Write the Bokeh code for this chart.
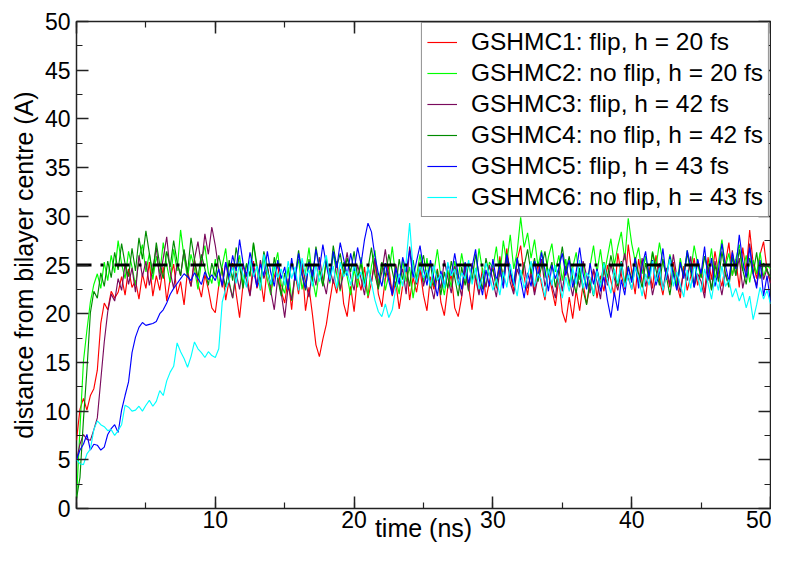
from bokeh.plotting import figure
from bokeh.models import Range1d, LinearAxis, SingleIntervalTicker, CustomJSTickFormatter
from bokeh.embed import file_html
from bokeh.resources import INLINE
import numpy as np

# time axis sampling (ns)
time_ns = np.arange(0, 201) * 0.25

gshmc1 = [
    7.0, 10.2, 11.3, 10.1, 11.6, 12.3, 14.2, 19.0, 21.1, 20.4, 22.3, 21.6, 22.2, 23.8, 21.9, 24.6, 22.7, 23.4, 21.5, 24.1,
    22.6, 25.3, 21.8, 23.9, 22.4, 24.8, 21.3, 23.6, 25.1, 22.0, 23.3, 20.9, 24.4, 22.8, 25.6, 23.1, 21.7, 24.0, 22.5, 20.6,
    20.1, 22.9, 24.7, 21.4, 23.5, 25.2, 22.1, 19.6, 23.0, 24.3, 21.9, 25.4, 22.6, 23.7, 21.2, 24.9, 22.4, 23.8, 25.0, 22.3,
    21.1, 23.6, 20.4, 24.2, 22.0, 25.1, 20.3, 22.7, 19.9, 16.8, 15.6, 17.4, 18.9, 21.3, 23.5, 22.1, 24.6, 21.0, 19.7, 22.8,
    20.2, 23.9, 22.4, 24.8, 21.6, 23.2, 25.4, 22.0, 20.7, 23.6, 24.9, 21.8, 23.3, 20.5, 22.9, 25.0, 21.4, 23.7, 22.2, 24.5,
    21.9, 20.3, 23.8, 22.5, 24.6, 21.2, 19.8, 22.7, 24.0, 20.6, 19.7, 21.7, 25.2, 22.8, 20.4, 23.9, 22.1, 24.7, 21.5, 23.3,
    24.8, 22.6, 25.9, 23.4, 26.7, 24.1, 22.3, 25.5, 27.0, 23.8, 21.9, 24.6, 22.2, 25.3, 23.0, 21.4, 24.2, 22.5, 20.8, 23.6,
    20.2, 19.1, 21.7, 19.5, 22.4, 20.3, 23.1, 21.0, 22.8, 24.5, 21.6, 23.9, 22.3, 25.0, 23.4, 21.8, 26.2, 24.0, 22.5, 27.1,
    24.3, 22.0, 25.6, 23.2, 21.5, 24.8, 22.6, 26.0, 23.5, 21.9, 24.4, 22.7, 25.3, 23.0, 21.6, 24.9, 22.4, 23.8, 25.7, 22.9,
    24.6, 22.1, 25.8, 23.5, 26.4, 24.2, 22.8, 25.1, 27.3, 23.9, 25.6, 22.7, 26.8, 24.3, 28.6, 25.2, 23.6, 26.1, 27.4, 24.5,
    23.2,
]

gshmc2 = [
    1.0, 8.2, 15.1, 18.3, 21.2, 23.0, 24.1, 22.6, 25.3, 23.4, 26.0, 24.2, 27.5, 25.1, 23.6, 26.4, 24.8, 22.9, 25.7, 27.1,
    24.3, 26.2, 23.5, 25.9, 24.1, 27.3, 25.0, 23.2, 26.6, 24.4, 28.6, 25.8, 23.7, 26.1, 24.6, 22.5, 25.4, 27.0, 24.2, 23.1,
    25.6, 22.8, 24.9, 26.7, 23.3, 21.6, 24.5, 26.0, 22.9, 25.2, 23.8, 27.2, 24.6, 22.4, 25.9, 23.5, 21.9, 24.7, 26.3, 23.0,
    22.1, 24.8, 21.3, 23.9, 25.6, 22.5, 24.2, 26.8, 23.6, 21.7, 24.4, 22.9, 25.7, 23.1, 26.2, 24.0, 22.3, 25.3, 23.8, 21.9,
    24.6, 22.7, 25.8, 23.4, 21.8, 24.9, 26.5, 23.1, 25.2, 22.4, 24.0, 26.9, 23.7, 22.0, 25.5, 23.3, 24.8, 21.6, 23.9, 26.1,
    23.2, 25.7, 22.6, 24.3, 26.6, 23.8, 21.9, 24.5, 22.7, 25.4, 23.6, 26.2, 24.1, 22.3, 25.0, 23.5, 26.7, 24.4, 22.8, 25.3,
    24.7, 26.9, 23.8, 27.5, 25.2, 28.1, 24.6, 26.4, 29.9, 26.8, 28.3, 25.7, 27.6, 24.9, 26.5, 23.7, 25.8, 27.2, 24.3, 26.0,
    23.4, 25.6, 22.8, 24.7, 26.3, 23.5, 25.1, 22.6, 24.9, 27.0, 24.2, 26.6, 23.9, 25.8, 27.7, 25.0, 26.9, 28.4, 25.5, 29.8,
    27.2, 25.4, 26.8, 24.1, 25.9, 23.6, 26.4, 24.8, 27.3, 25.2, 23.9, 26.1, 24.5, 22.9, 25.7, 23.8, 26.5, 24.3, 27.0, 25.1,
    23.7, 25.9, 24.2, 26.7, 23.5, 25.3, 27.6, 24.8, 26.2, 23.9, 25.6, 27.1, 24.4, 26.0, 23.2, 25.5, 24.1, 26.3, 23.8, 25.0,
    24.6,
]

gshmc3 = [
    5.0, 6.6, 7.6, 7.1, 7.0, 8.1, 9.3, 13.2, 17.1, 20.2, 22.0, 21.3, 23.6, 22.4, 25.1, 23.0, 24.7, 22.2, 26.0, 23.8,
    25.4, 22.9, 24.6, 26.8, 23.5, 25.7, 27.9, 24.3, 22.6, 25.2, 23.9, 26.5, 24.1, 22.8, 25.6, 27.4, 24.9, 28.2, 26.1, 28.9,
    27.0, 24.5, 22.7, 25.3, 23.1, 21.6, 24.2, 22.5, 25.0, 23.4, 21.8, 24.6, 22.9, 25.5, 23.6, 24.8, 22.3, 20.4, 23.7, 22.1,
    19.6, 22.8, 21.4, 24.0, 22.6, 25.2, 23.3, 21.7, 24.5, 22.9, 25.8, 23.5, 22.0, 24.7, 23.1, 25.4, 22.5, 24.2, 26.3, 23.8,
    22.4, 25.0, 23.6, 21.9, 24.8, 23.2, 25.7, 22.7, 24.3, 26.6, 23.9, 22.2, 25.1, 23.4, 24.6, 22.0, 26.9, 24.5, 23.0, 25.3,
    22.8, 24.4, 23.1, 21.5, 24.0, 22.6, 25.5, 23.7, 22.1, 24.9, 23.3, 21.8, 24.7, 22.4, 25.2, 23.6, 21.9, 24.1, 22.7, 25.0,
    23.4, 21.7, 24.5, 22.9, 25.8, 23.2, 22.0, 24.6, 23.5, 25.3, 22.6, 24.1, 21.9, 23.8, 25.6, 22.8, 24.3, 23.0, 21.6, 24.7,
    22.3, 24.9, 23.5, 21.8, 24.2, 22.7, 25.4, 23.9, 22.1, 24.6, 23.3, 21.5, 24.8, 22.9, 25.1, 23.6, 22.4, 24.5, 26.2, 23.7,
    22.5, 24.9, 23.1, 25.7, 22.8, 24.3, 21.9, 23.6, 25.2, 22.4, 24.7, 23.0, 26.1, 23.8, 22.2, 24.5, 23.4, 25.9, 22.7, 24.1,
    23.3, 21.6, 24.8, 22.5, 25.4, 23.7, 21.9, 24.2, 22.8, 26.5, 23.9, 25.7, 22.6, 24.4, 27.2, 24.0, 22.9, 25.3, 23.5, 24.6,
    23.1,
]

gshmc4 = [
    1.0, 3.2, 9.1, 14.2, 20.1, 22.3, 21.6, 24.2, 22.8, 25.4, 23.7, 26.3, 24.5, 27.2, 25.1, 23.8, 26.7, 24.4, 27.8, 25.6,
    28.5, 26.2, 24.1, 27.3, 25.0, 23.6, 26.4, 24.8, 27.5, 25.3, 23.9, 26.6, 24.2, 27.8, 25.5, 23.7, 26.1, 24.6, 22.9, 25.2,
    23.8, 26.0, 24.3, 22.7, 25.5, 23.4, 26.8, 24.9, 22.6, 25.1, 23.9, 27.3, 25.0, 23.2, 26.4, 24.7, 22.9, 25.8, 23.6, 21.8,
    24.2, 22.6, 25.3, 23.8, 26.5, 24.1, 22.4, 25.6, 23.3, 26.9, 24.7, 22.8, 25.4, 23.6, 27.0, 24.8, 26.2, 23.9, 25.7, 24.3,
    26.4, 23.7, 25.2, 22.9, 24.6, 26.8, 24.0, 22.5, 25.3, 23.8, 26.1, 24.4, 22.7, 25.6, 23.5, 24.9, 22.8, 25.5, 23.2, 24.7,
    26.0, 23.6, 25.1, 22.8, 24.5, 21.9, 24.3, 22.6, 25.4, 23.7, 21.8, 24.8, 22.9, 25.2, 23.4, 26.1, 24.0, 22.5, 25.7, 23.9,
    24.6, 22.8, 25.5, 23.7, 26.2, 24.4, 22.9, 25.8, 23.5, 24.9, 26.6, 24.1, 25.7, 23.3, 24.8, 26.4, 24.0, 25.3, 22.7, 24.5,
    26.9, 24.3, 25.9, 23.6, 22.1, 24.7, 22.4, 20.9, 23.5, 21.8, 24.6, 22.9, 25.3, 23.7, 26.0, 24.2, 22.8, 25.4, 23.1, 24.9,
    23.5, 25.8, 24.1, 22.7, 25.2, 23.6, 26.3, 24.5, 22.9, 25.6, 23.8, 21.9, 24.4, 22.6, 25.1, 23.9, 26.2, 24.3, 22.8, 25.5,
    23.7, 25.9, 24.6, 22.4, 25.0, 23.3, 26.4, 24.2, 22.7, 25.8, 23.9, 26.6, 24.5, 23.0, 25.7, 24.1, 26.3, 23.6, 25.2, 24.4,
    23.8,
]

gshmc5 = [
    5.0, 6.0, 6.6, 7.6, 6.0, 6.6, 6.5, 6.0, 6.3, 7.6, 8.2, 8.6, 7.8, 10.1, 11.6, 13.0, 16.0, 17.6, 18.6, 19.1,
    18.8, 18.9, 19.0, 19.2, 20.0, 20.4, 21.1, 22.0, 22.6, 23.1, 23.6, 24.1, 23.8, 23.4, 24.2, 23.6, 23.0, 24.3, 23.5, 24.0,
    23.4, 24.6, 22.9, 25.3, 23.7, 26.0, 24.4, 27.6, 25.2, 23.8, 26.3, 24.6, 22.7, 25.1, 23.9, 26.4, 24.2, 22.8, 25.5, 23.6,
    24.8, 22.5, 25.7, 23.4, 26.2, 24.0, 22.6, 25.3, 23.8, 26.6, 24.5, 27.1, 25.0, 23.3, 26.4, 24.7, 27.3, 25.6, 23.9, 26.2,
    24.4, 26.8, 25.1, 27.6, 29.3, 28.4, 25.9, 24.1, 22.8, 25.2, 23.4, 21.9, 24.7, 23.0, 25.8, 24.3, 26.5, 23.7, 25.4, 27.0,
    24.6, 22.9, 25.5, 23.6, 21.8, 24.4, 22.7, 25.1, 23.9, 26.2, 24.0, 22.5, 25.3, 23.1, 24.8, 26.6, 23.7, 21.9, 24.5, 22.8,
    25.6, 23.4, 24.9, 22.6, 26.1, 24.3, 22.9, 25.7, 23.5, 21.6, 24.2, 22.8, 25.4, 23.7, 26.3, 24.5, 22.3, 25.0, 23.6, 24.7,
    26.2, 23.9, 25.5, 22.7, 24.3, 26.8, 24.1, 22.5, 25.2, 23.0, 24.6, 22.3, 23.8, 21.4, 19.6, 22.2, 20.3, 23.5, 21.9, 24.8,
    23.2, 25.7, 22.6, 24.9, 26.4, 23.8, 25.5, 22.9, 24.2, 26.7, 23.5, 25.9, 24.0, 22.4, 25.3, 23.6, 26.5, 24.8, 22.7, 25.6,
    24.1, 26.9, 23.4, 25.7, 22.8, 24.5, 27.2, 25.0, 23.3, 26.3, 24.6, 28.1, 25.4, 23.7, 26.8, 24.2, 22.6, 25.5, 21.8, 23.9,
    21.2,
]

gshmc6 = [
    5.0, 4.6, 4.5, 5.6, 6.1, 8.1, 9.0, 8.6, 8.4, 8.0, 8.1, 7.5, 8.0, 8.6, 10.6, 10.4, 10.0, 10.1, 10.5, 10.0,
    10.6, 11.1, 10.5, 11.0, 12.1, 11.6, 13.1, 14.0, 14.6, 17.0, 16.1, 15.4, 14.5, 15.6, 17.1, 16.4, 16.0, 15.5, 16.1, 15.7,
    15.5, 16.4, 21.2, 22.6, 23.5, 24.8, 23.1, 25.3, 24.0, 22.7, 25.6, 23.8, 24.9, 22.5, 26.1, 24.3, 23.0, 25.2, 23.7, 24.6,
    22.9, 25.4, 23.6, 24.8, 22.4, 25.7, 23.9, 24.5, 22.8, 25.0, 23.3, 24.7, 26.0, 23.5, 24.9, 22.6, 25.3, 23.8, 24.4, 22.9,
    25.1, 23.6, 24.3, 22.7, 24.8, 23.2, 21.4, 20.2, 19.7, 21.0, 19.6, 20.4, 22.6, 24.1, 22.8, 25.3, 29.3, 24.6, 23.2, 25.0,
    23.7, 24.5, 22.8, 25.0, 23.4, 24.1, 22.6, 25.3, 23.9, 24.6, 22.9, 24.2, 23.6, 25.5, 23.0, 24.7, 22.5, 23.8, 25.2, 24.0,
    22.4, 23.6, 21.9, 24.3, 22.7, 25.1, 23.3, 21.8, 24.5, 22.6, 23.9, 25.4, 22.8, 24.1, 23.5, 21.7, 24.6, 22.9, 25.0, 23.2,
    21.6, 23.8, 22.3, 24.7, 23.0, 25.5, 22.6, 24.2, 23.7, 21.9, 24.4, 22.8, 25.2, 23.4, 22.1, 24.6, 23.1, 25.3, 22.7, 24.0,
    22.5, 24.8, 23.6, 21.8, 24.1, 22.9, 25.4, 23.3, 24.7, 22.4, 23.9, 25.6, 22.8, 24.3, 23.0, 21.7, 24.5, 22.6, 25.1, 23.8,
    22.2, 24.6, 23.1, 21.5, 23.7, 22.4, 24.9, 22.8, 23.5, 21.7, 22.6, 21.3, 22.2, 20.6, 21.8, 19.4, 20.9, 22.7, 21.5, 22.4,
    21.0,
]

ref_time = [0, 50]
ref_distance = [25, 25]

series_labels = [
    "GSHMC1: flip, h = 20 fs",
    "GSHMC2: no flip, h = 20 fs",
    "GSHMC3: flip, h = 42 fs",
    "GSHMC4: no flip, h = 42 fs",
    "GSHMC5: flip, h = 43 fs",
    "GSHMC6: no flip, h = 43 fs",
]
series_values = [gshmc1, gshmc2, gshmc3, gshmc4, gshmc5, gshmc6]
series_colors = ["#ff0000", "#00ff00", "#7a0a5c", "#008b00", "#0000ff", "#00ffff"]

FONT = "Liberation Sans"

p = figure(
    width=771, height=549,
    x_range=Range1d(0, 50), y_range=Range1d(0, 50),
    output_backend="svg", toolbar_location=None,
    min_border_left=76, min_border_right=1, min_border_top=21, min_border_bottom=41,
)
p.background_fill_color = "white"
p.border_fill_color = "white"
p.xgrid.visible = False
p.ygrid.visible = False
p.outline_line_color = "#222222"
p.outline_line_width = 1.5

for vals, lab, col in zip(series_values, series_labels, series_colors):
    p.line(time_ns, vals, line_color=col, line_width=1.15, legend_label=lab)

p.line(ref_time, ref_distance, line_color="black", line_width=3, line_dash="15 9 3 11")

blank = CustomJSTickFormatter(code="return '';")

def style_axis(ax, ticker, labels=True):
    ax.ticker = ticker
    ax.axis_line_color = None
    ax.major_tick_in = 12
    ax.major_tick_out = 0
    ax.minor_tick_in = 6
    ax.minor_tick_out = 0
    ax.major_tick_line_color = "#222222"
    ax.minor_tick_line_color = "#222222"
    ax.major_tick_line_width = 1.5
    ax.minor_tick_line_width = 1.2
    if labels:
        ax.major_label_text_font = FONT
        ax.major_label_text_font_size = "23px"
        ax.major_label_text_color = "black"
        ax.axis_label_text_font = FONT
        ax.axis_label_text_font_size = "25px"
        ax.axis_label_text_font_style = "normal"
        ax.axis_label_text_color = "black"
    else:
        ax.formatter = blank
        ax.major_label_standoff = 0
        ax.axis_label = None

style_axis(p.xaxis[0], SingleIntervalTicker(interval=10, num_minor_ticks=2))
style_axis(p.yaxis[0], SingleIntervalTicker(interval=5, num_minor_ticks=2))
p.xaxis[0].axis_label = "time (ns)"
p.yaxis[0].axis_label = "distance from bilayer centre (A)"
p.xaxis[0].major_label_overrides = {0: ""}
p.xaxis[0].major_label_standoff = 2
p.xaxis[0].axis_label_standoff = -17
p.yaxis[0].major_label_standoff = 6
p.yaxis[0].axis_label_standoff = 4

top_ax = LinearAxis()
right_ax = LinearAxis()
style_axis(top_ax, SingleIntervalTicker(interval=10, num_minor_ticks=2), labels=False)
style_axis(right_ax, SingleIntervalTicker(interval=5, num_minor_ticks=2), labels=False)
p.add_layout(top_ax, "above")
p.add_layout(right_ax, "right")

lg = p.legend[0]
lg.location = "top_right"
lg.margin = 1
lg.padding = 5
lg.spacing = 3
lg.label_height = 28
lg.glyph_height = 28
lg.glyph_width = 30
lg.label_standoff = 14
lg.label_text_font = FONT
lg.label_text_font_size = "24.5px"
lg.label_text_color = "black"
lg.border_line_color = "#222222"
lg.border_line_width = 1.2
lg.background_fill_color = "white"
lg.background_fill_alpha = 1.0

open("out.html", "w").write(file_html(p, INLINE))
